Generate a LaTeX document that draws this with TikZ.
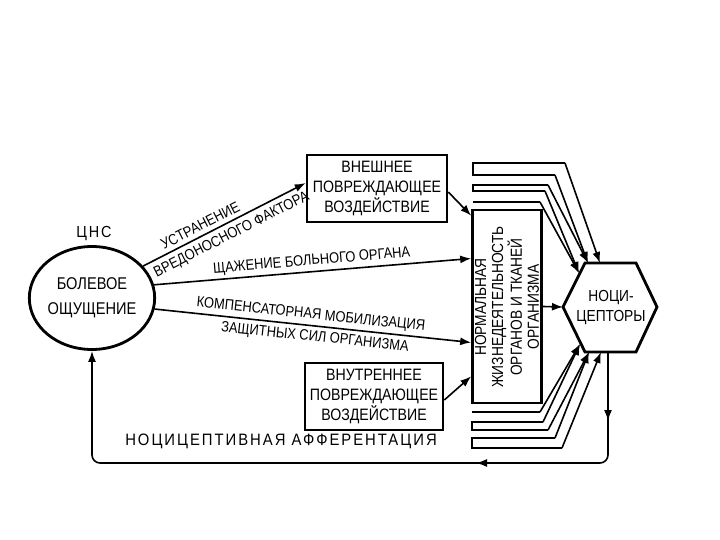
\documentclass[tikz,border=0pt]{standalone}
\usepackage{fontspec}
\setmainfont[FakeStretch=0.86]{Liberation Sans}
\newfontfamily\spacedfont[FakeStretch=0.9,LetterSpace=12]{Liberation Sans}
\usetikzlibrary{arrows.meta,shapes.geometric}
\begin{document}
\begin{tikzpicture}[x=1pt,y=-1pt,
  boxtext/.style={font=\fontsize{16.5}{20}\selectfont},
  box/.style={draw, line width=2.6pt, align=center, inner sep=0pt, boxtext},
  arr/.style={line width=1.6pt, -{Latex[length=11pt,width=8pt]}},
  ln/.style={line width=1.6pt},
  lbl/.style={font=\fontsize{15}{15}\selectfont, inner sep=0pt}
]
\useasboundingbox (0,0) rectangle (720,540);
\fill[white] (0,0) rectangle (720,540);

% nodes
\node[draw, ellipse, line width=2.8pt, minimum width=96pt, minimum height=103pt,
      inner sep=0pt, align=center, font=\fontsize{17}{25}\selectfont] (cns) at (92,298) {БОЛЕВОЕ\\ОЩУЩЕНИЕ};
\node[font=\spacedfont\fontsize{16}{16}\selectfont, inner sep=0pt] (cnslbl) at (94,234) {ЦНС};

\node[box, minimum width=140pt, minimum height=67pt] (ext) at (377,188.5) {ВНЕШНЕЕ\\ПОВРЕЖДАЮЩЕЕ\\ВОЗДЕЙСТВИЕ};
\node[box, minimum width=138pt, minimum height=67pt] (int) at (374,396.5) {ВНУТРЕННЕЕ\\ПОВРЕЖДАЮЩЕЕ\\ВОЗДЕЙСТВИЕ};
\node[box, minimum width=69pt, minimum height=193pt] (tall) at (507,306.5) {};
\node[rotate=90, align=center, inner sep=0pt, font=\fontsize{16}{17}\selectfont] (talltext) at (507,307)
  {НОРМАЛЬНАЯ\\ЖИЗНЕДЕЯТЕЛЬНОСТЬ\\ОРГАНОВ И ТКАНЕЙ\\ОРГАНИЗМА};

% hexagon
\coordinate (hL) at (563,307);
\coordinate (hTL) at (585,263);
\coordinate (hTR) at (636,263);
\coordinate (hR) at (657,307);
\coordinate (hBR) at (636,352);
\coordinate (hBL) at (585,352);
\draw[line width=2.8pt, line join=miter] (hL) -- (hTL) -- (hTR) -- (hR) -- (hBR) -- (hBL) -- cycle;
\node[align=center, inner sep=0pt, font=\fontsize{16}{20}\selectfont] (hex) at (611,308) {НОЦИ-\\ЦЕПТОРЫ};

% arrows from CNS
\draw[arr] (cns.32) -- ([yshift=5.5pt]ext.west)
  node[lbl, pos=.38, sloped, above=4pt] {УСТРАНЕНИЕ}
  node[lbl, pos=.51, sloped, below=5pt] {ВРЕДОНОСНОГО ФАКТОРА};
\draw[arr] (cns.12) -- ([yshift=48pt]tall.west)
  node[lbl, pos=.5, sloped, above=3pt] {ЩАЖЕНИЕ БОЛЬНОГО ОРГАНА};
\draw[arr] (cns.-10) -- ([yshift=-36pt]tall.west)
  node[lbl, pos=.49, sloped, above=3pt] {КОМПЕНСАТОРНАЯ МОБИЛИЗАЦИЯ}
  node[lbl, pos=.51, sloped, below=4pt] {ЗАЩИТНЫХ СИЛ ОРГАНИЗМА};

\draw[arr] ([yshift=-3.5pt]ext.east) -- ([yshift=-7pt]tall.north west);
\draw[arr] ([yshift=-3.5pt]int.east) -- ([yshift=28pt]tall.south west);
\draw[arr] (tall.east) -- (hL);

% top bracket lines
\coordinate (T1) at (600,263);
\coordinate (T2) at (588,263);
\coordinate (T3) at (579,273);
\draw[ln] (565,163) -- (473,163) -- (473,175) -- (555,175);
\draw[arr] (565,163) -- (T1);
\draw[arr] (555,175) -- (T2);
\draw[ln] (548,185) -- (473,185) -- (473,191) -- (545,191);
\draw[arr] (548,185) -- (T2);
\draw[arr] (545,191) -- (T3);
\draw[ln] (473,202) -- (540,202);
\draw[arr] (540,202) -- (T3);

% bottom bracket lines
\coordinate (B1) at (580,344);
\coordinate (B2) at (589,352);
\coordinate (B3) at (601,352);
\draw[ln] (472,412) -- (540,412);
\draw[arr] (540,412) -- (B1);
\draw[ln] (543,422) -- (472,422) -- (472,430) -- (548,430);
\draw[arr] (543,422) -- (B1);
\draw[arr] (548,430) -- (B2);
\draw[ln] (555,438) -- (472,438) -- (472,448) -- (562,448);
\draw[arr] (555,438) -- (B2);
\draw[arr] (562,448) -- (B3);

% feedback loop
\coordinate (hB) at (608,352);
\coordinate (fb1) at (608,421);
\coordinate (fb2) at (476,463);
\draw[arr] (hB) -- (fb1);
\draw[arr, rounded corners=8pt] (608,416) |- (fb2);
\draw[arr, rounded corners=8pt] (480,463) -| (cns.south);
\node[font=\spacedfont\fontsize{16.5}{16.5}\selectfont, inner sep=0pt] (aff) at (281,441) {НОЦИЦЕПТИВНАЯ АФФЕРЕНТАЦИЯ};
\end{tikzpicture}
\end{document}
